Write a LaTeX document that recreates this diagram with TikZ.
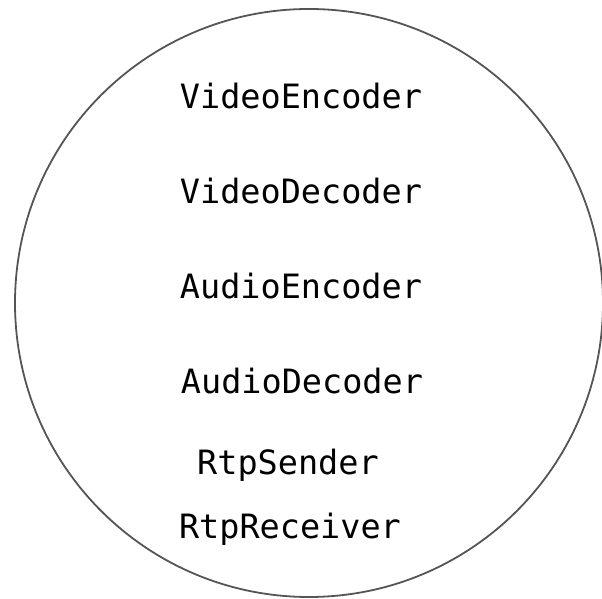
\documentclass[tikz,border=0pt]{standalone}
\usepackage{fontspec}
\newfontfamily\monofont{DejaVu Sans Mono}
\definecolor{ringgray}{HTML}{555555}
\begin{document}
\begin{tikzpicture}[x=1pt,y=1pt,
  label/.style={font=\monofont\fontsize{33.5}{40}\selectfont, anchor=base, inner sep=0pt}]
\useasboundingbox (0,0) rectangle (602,599);
\begin{scope}
  \clip (0,0) rectangle (602,599);
  \node[circle, draw=ringgray, line width=1.8pt, minimum size=588pt, inner sep=0pt] (ring) at (309,296) {};
\end{scope}
\node[label] (ve) at (301,599-109) {VideoEncoder};
\node[label] (vd) at (301,599-204) {VideoDecoder};
\node[label] (ae) at (301,599-299) {AudioEncoder};
\node[label] (ad) at (302,599-394) {AudioDecoder};
\node[label] (rs) at (288,599-475) {RtpSender};
\node[label] (rr) at (290,599-539) {RtpReceiver};
\end{tikzpicture}
\end{document}
